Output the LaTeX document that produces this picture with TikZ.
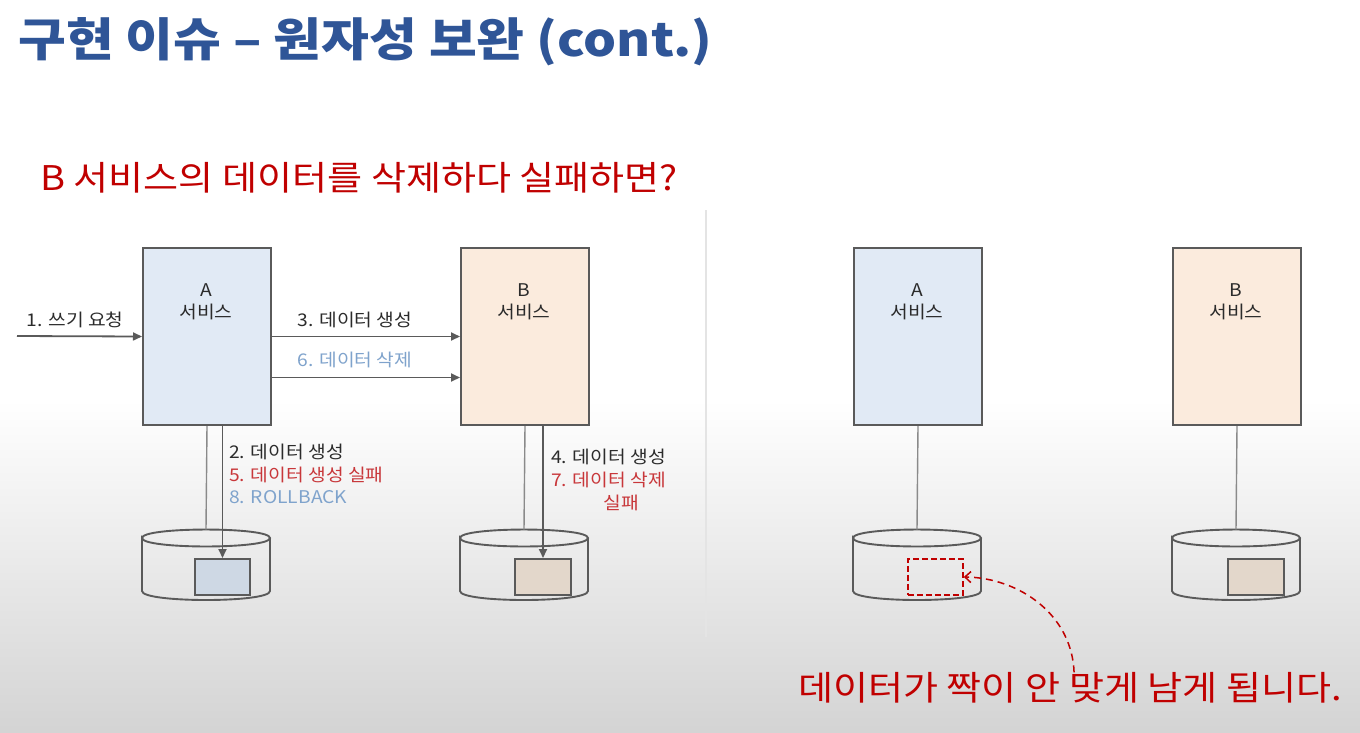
\documentclass[tikz,border=0pt]{standalone}
\usepackage{fontspec}
\setmainfont{Noto Sans CJK KR}
\usetikzlibrary{arrows.meta,calc}
\definecolor{titleblue}{HTML}{2F5597}
\definecolor{subred}{HTML}{C00000}
\definecolor{lblred}{HTML}{C8373A}
\definecolor{lblblue}{HTML}{7FA3CC}
\definecolor{txt}{HTML}{2B2B2B}
\definecolor{edge}{HTML}{5A5A5A}
\definecolor{thinln}{HTML}{8A8A8A}
\definecolor{afill}{HTML}{E1EAF5}
\definecolor{bfill}{HTML}{FBEBDD}
\definecolor{arect}{HTML}{CED8E4}
\definecolor{brect}{HTML}{E3D7CB}
\definecolor{divider}{HTML}{E4E4E4}
\newcommand\dbcyl[2]{%
  \coordinate (#2) at (#1+64,529.5);
  \draw[cyl] (#1,538) .. controls (#1,526.7) and (#1+128,526.7) .. (#1+128,538)
    .. controls (#1+128,549.3) and (#1,549.3) .. (#1,538) -- (#1,591)
    .. controls (#1,603) and (#1+128,603) .. (#1+128,591) -- (#1+128,538);
}
\begin{document}
\begin{tikzpicture}[x=1pt,y=-1pt,
  svc/.style={draw=edge, line width=2pt, minimum width=128pt, minimum height=177pt, inner sep=0pt, anchor=north west},
  rec/.style={draw=edge, line width=2pt, minimum width=55pt, minimum height=36pt, inner sep=0pt, anchor=north west},
  cyl/.style={draw=edge, line width=1.9pt},
  arr/.style={draw=edge, line width=1.8pt, -{Triangle[length=9pt,width=8pt]}},
  plain/.style={draw=thinln, line width=1.4pt},
  lbl/.style={font=\fontsize{17.5}{22.5}\selectfont, text=txt, inner sep=0pt, xscale=1.1},
  big/.style={font=\fontsize{34}{40}\selectfont, text=subred, inner sep=0pt, xscale=1.12}]
\useasboundingbox (0,0) rectangle (1360,732);
\fill[white] (0,0) rectangle (1360,732);
\shade[top color=white, bottom color=black!17] (0,400) rectangle (1360,732);
\draw[divider, line width=2.5pt] (706,210) -- (706,637);
% title
\node[anchor=base west, font=\fontsize{46}{50}\selectfont\bfseries, text=titleblue, inner sep=0pt, xscale=1.13] (title) at (18,56) {구현 이슈 – 원자성 보완 (cont.)};
\node[big, anchor=west] (sub) at (40,178) {B 서비스의 데이터를 삭제하다 실패하면?};
% left diagram
\node[svc, fill=afill] (A) at (142,247) {};
\node[svc, fill=bfill] (B) at (460,247) {};
\node[lbl, align=center, anchor=north] (At) at (206,283) {A\\서비스};
\node[lbl, align=center, anchor=north] (Bt) at (524,283) {B\\서비스};
\coordinate (in) at (17,336);
\draw[arr] (in) -- (A.west);
\node[lbl] (l1) at (75,320) {1. 쓰기 요청};
\draw[arr] (A.east) -- (B.west);
\node[lbl] (l3) at (355,320) {3. 데이터 생성};
\draw[arr] ($(A.east)+(0,41)$) -- ($(B.west)+(0,41)$);
\node[lbl, text=lblblue] (l6) at (355,360) {6. 데이터 삭제};
\dbcyl{142}{cA}
\dbcyl{460}{cB}
\node[rec, fill=arect] (rA) at (194,558) {};
\node[rec, fill=brect, minimum width=56pt] (rB) at (514,558) {};
\draw[plain] (A.south) -- (cA);
\draw[arr] (A.south -| rA.north) -- (rA.north);
\draw[plain] (B.south) -- (cB);
\draw[arr] (B.south -| rB.north) -- (rB.north);
\node[lbl, align=left, anchor=north west] (l2) at (229,444) {2. 데이터 생성\\\textcolor{lblred}{5. 데이터 생성 실패}\\\textcolor{lblblue}{8. ROLLBACK}};
\node[lbl, align=left, anchor=north west] (l4) at (551,449) {4. 데이터 생성\\\textcolor{lblred}{7. 데이터 삭제}};
\node[lbl, text=lblred] (l7) at (621,503) {실패};
% right diagram
\node[svc, fill=afill] (A2) at (853,247) {};
\node[svc, fill=bfill] (B2) at (1172,247) {};
\node[lbl, align=center, anchor=north] (A2t) at (917,283) {A\\서비스};
\node[lbl, align=center, anchor=north] (B2t) at (1236,283) {B\\서비스};
\dbcyl{853}{cA2}
\dbcyl{1172}{cB2}
\draw[plain] (A2.south) -- (cA2);
\draw[plain] (B2.south) -- (cB2);
\node[rec, draw=subred, dash pattern=on 6pt off 3pt, line width=1.8pt] (dA) at (907,558) {};
\node[rec, fill=brect, minimum width=56pt] (rB2) at (1227,558) {};
\node[big, anchor=west] (msg) at (798,688) {데이터가 짝이 안 맞게 남게 됩니다.};
\draw[subred, line width=1.5pt, dash pattern=on 7pt off 5pt, -{Straight Barb[length=6pt,width=11pt]}] ($(msg.north)+(4,0)$) .. controls (1072,615) and (1020,578) .. (dA.east);
\end{tikzpicture}
\end{document}
